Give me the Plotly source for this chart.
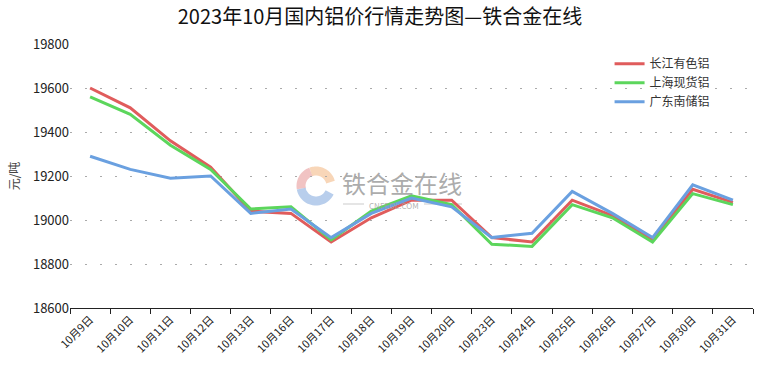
import numpy as np
import plotly.graph_objects as go

dates = ["10月9日", "10月10日", "10月11日", "10月12日", "10月13日", "10月16日", "10月17日", "10月18日",
         "10月19日", "10月20日", "10月23日", "10月24日", "10月25日", "10月26日", "10月27日", "10月30日", "10月31日"]
changjiang = [19600, 19510, 19360, 19240, 19040, 19030, 18900, 19010, 19090, 19090, 18920, 18900, 19090, 19020, 18910, 19140, 19080]
shanghai = [19560, 19480, 19340, 19230, 19050, 19060, 18910, 19040, 19110, 19070, 18890, 18880, 19070, 19010, 18900, 19120, 19070]
guangdong = [19290, 19230, 19190, 19200, 19030, 19050, 18920, 19030, 19100, 19060, 18920, 18940, 19130, 19030, 18920, 19160, 19090]
y_ticks = [18600, 18800, 19000, 19200, 19400, 19600, 19800]

series = [("长江有色铝", changjiang, "#e05c5c"),
          ("上海现货铝", shanghai, "#5cd65c"),
          ("广东南储铝", guangdong, "#6aa0e0")]

font = "Noto Sans CJK SC"
W, H = 760, 374
ML, MR, MT, MB = 70, 7, 44, 66
PW, PH = W - ML - MR, H - MT - MB

fig = go.Figure()
for name, vals, col in series:
    fig.add_trace(go.Scatter(x=dates, y=vals, name=name, mode="lines",
                             line=dict(color=col, width=3)))

fig.update_layout(
    width=W, height=H,
    margin=dict(l=ML, r=MR, t=MT, b=MB, autoexpand=False),
    plot_bgcolor="white", paper_bgcolor="white",
    font=dict(family=font, color="#222"),
    title=dict(text="2023年10月国内铝价行情走势图—铁合金在线", x=0.5, xanchor="center",
               y=0.955, yanchor="middle", font=dict(size=20, color="#111", family=font)),
    legend=dict(x=0.79, y=0.98, xanchor="left", yanchor="top", font=dict(size=12, color="#333"),
                bgcolor="rgba(0,0,0,0)", itemwidth=30, tracegroupgap=0),
    showlegend=True,
)
fig.update_xaxes(type="category", tickson="boundaries", ticks="outside", ticklen=5,
                 range=[-0.5, len(dates) - 0.5], automargin=False,
                 tickcolor="#222", showline=True, linecolor="#222", linewidth=1,
                 showgrid=False, tickangle=-45, tickfont=dict(size=11, color="#222"))
fig.update_yaxes(range=[18600, 19800], tickvals=y_ticks, tickformat="d", showgrid=True, gridcolor="#aaaaaa",
                 griddash="2px,13px", gridwidth=1, zeroline=False, showline=False, automargin=False,
                 ticks="", tickfont=dict(size=13, color="#222"),
                 title=dict(text="元/吨", font=dict(size=12, color="#444"), standoff=10))


# watermark (decorative logo)
def px2paper(px, py):
    return (px - ML) / PW, 1 - (py - MT) / PH


def arc_path(cx, cy, r, a0, a1, n=30):
    angs = np.linspace(np.radians(a0), np.radians(a1), n)
    pts = [px2paper(cx + r * np.cos(a), cy - r * np.sin(a)) for a in angs]
    return "M " + " L ".join(f"{x:.5f},{y:.5f}" for x, y in pts)


cx, cy = 316, 186
for a0, a1, col, r, w in [(15, 110, "rgba(245,200,160,0.75)", 15, 9),
                          (110, 190, "rgba(235,170,170,0.7)", 15, 9),
                          (190, 335, "rgba(160,190,230,0.75)", 15, 9)]:
    fig.add_shape(type="path", xref="paper", yref="paper", path=arc_path(cx, cy, r, a0, a1),
                  line=dict(color=col, width=w), layer="below")

fig.add_annotation(text="铁合金在线", x=px2paper(402, 182)[0], y=px2paper(402, 182)[1],
                   xref="paper", yref="paper", showarrow=False,
                   font=dict(size=24, color="rgba(150,150,150,0.8)", family=font))
fig.add_annotation(text="CNFEOL.COM", x=px2paper(394, 205)[0], y=px2paper(394, 205)[1],
                   xref="paper", yref="paper", showarrow=False,
                   font=dict(size=8, color="rgba(160,160,160,0.8)", family=font))
for xa, xb in [(343, 364), (424, 462)]:
    p0, p1 = px2paper(xa, 204), px2paper(xb, 204)
    fig.add_shape(type="line", xref="paper", yref="paper", x0=p0[0], x1=p1[0], y0=p0[1], y1=p1[1],
                  line=dict(color="rgba(190,190,190,0.8)", width=1), layer="below")

fig.write_html("out.html", config={"displayModeBar": False},
               post_script="document.body.style.margin='0';document.body.style.padding='0';")
